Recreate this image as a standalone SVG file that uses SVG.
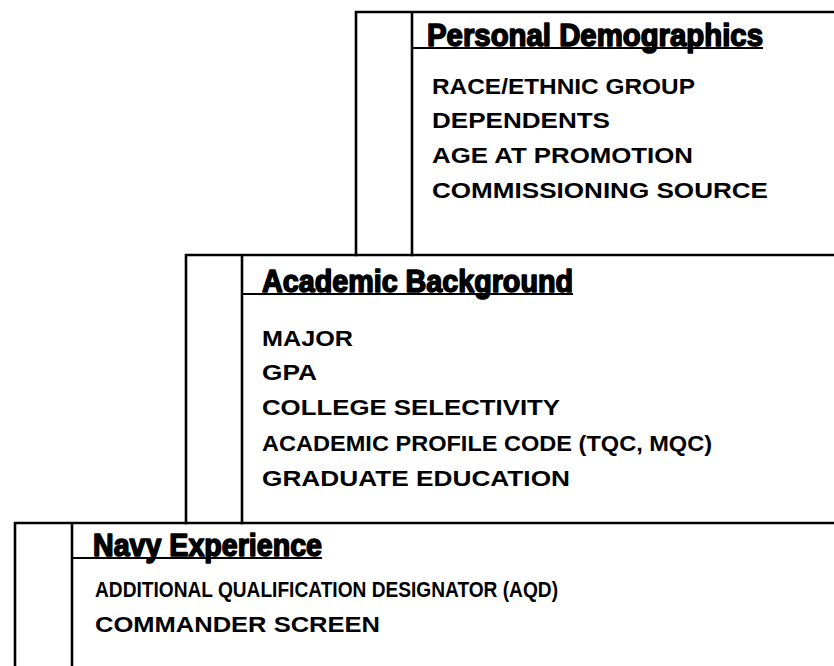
<svg xmlns="http://www.w3.org/2000/svg" width="834" height="666" viewBox="0 0 834 666">
<style>
.ln{stroke:#000;stroke-width:2.6;fill:none;stroke-linecap:square}
.ul{stroke:#000;stroke-width:2;fill:none}
.hd{font-family:"Liberation Sans Narrow","Liberation Sans",Arial,sans-serif;font-weight:900;font-size:31px;fill:#000;stroke:#000;stroke-width:1.6;stroke-linejoin:round}
.it{font-family:"Liberation Sans",Arial,sans-serif;font-weight:bold;font-size:22.5px;fill:#000}
</style>
<rect width="834" height="666" fill="#fff"/>
<g id="personal-demographics">
<path class="ln" d="M836 12 H356 V255 M412 12 V255"/>
<line class="ul" x1="412" y1="48" x2="763" y2="48"/>
<text class="hd" x="427" y="46" textLength="336" lengthAdjust="spacingAndGlyphs">Personal Demographics</text>
<text class="it" x="432" y="94" textLength="263" lengthAdjust="spacingAndGlyphs">RACE/ETHNIC GROUP</text>
<text class="it" x="432" y="128" textLength="178" lengthAdjust="spacingAndGlyphs">DEPENDENTS</text>
<text class="it" x="432" y="163" textLength="261" lengthAdjust="spacingAndGlyphs">AGE AT PROMOTION</text>
<text class="it" x="432" y="198" textLength="336" lengthAdjust="spacingAndGlyphs">COMMISSIONING SOURCE</text>
</g>
<g id="academic-background">
<path class="ln" d="M836 255 H186 V523 M242 255 V523"/>
<line class="ul" x1="242" y1="294" x2="573" y2="294"/>
<text class="hd" x="262" y="292" textLength="311" lengthAdjust="spacingAndGlyphs">Academic Background</text>
<text class="it" x="262" y="346" textLength="91" lengthAdjust="spacingAndGlyphs">MAJOR</text>
<text class="it" x="262" y="380" textLength="55" lengthAdjust="spacingAndGlyphs">GPA</text>
<text class="it" x="262" y="415" textLength="298" lengthAdjust="spacingAndGlyphs">COLLEGE SELECTIVITY</text>
<text class="it" x="262" y="451" textLength="450" lengthAdjust="spacingAndGlyphs">ACADEMIC PROFILE CODE (TQC, MQC)</text>
<text class="it" x="262" y="486" textLength="308" lengthAdjust="spacingAndGlyphs">GRADUATE EDUCATION</text>
</g>
<g id="navy-experience">
<path class="ln" d="M836 523 H15 V668 M72 523 V668"/>
<line class="ul" x1="72" y1="558" x2="322" y2="558"/>
<text class="hd" x="93" y="556" textLength="229" lengthAdjust="spacingAndGlyphs">Navy Experience</text>
<text class="it" x="95" y="597" textLength="463" lengthAdjust="spacingAndGlyphs">ADDITIONAL QUALIFICATION DESIGNATOR (AQD)</text>
<text class="it" x="95" y="632" textLength="285" lengthAdjust="spacingAndGlyphs">COMMANDER SCREEN</text>
</g>
</svg>
